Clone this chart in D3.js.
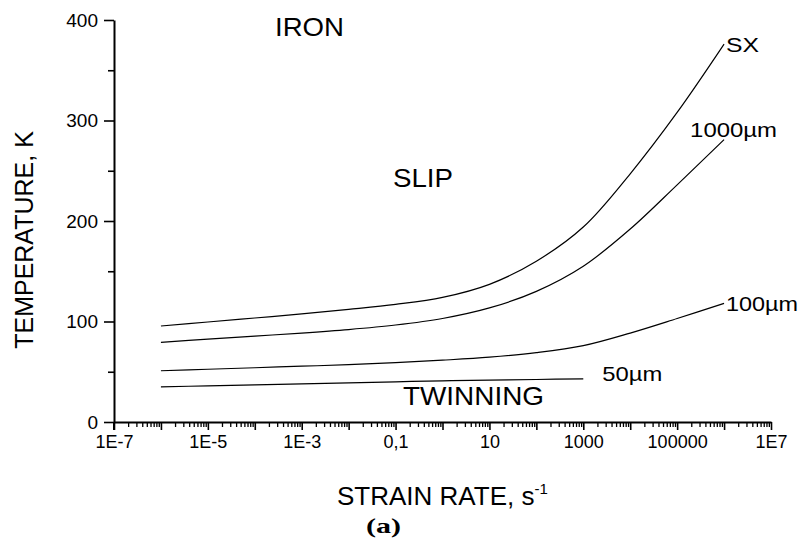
<!DOCTYPE html>
<html><head><meta charset="utf-8">
<script src="https://cdn.jsdelivr.net/npm/d3@7"></script>
<style>
html,body{margin:0;padding:0;background:#fff;}
text{font-family:"Liberation Sans",Arial,sans-serif;fill:#000;}
</style></head>
<body>
<svg id="c" width="801" height="540"></svg>
<script>
// ---- data ----
const rates = [1e-6,1e-5,1e-4,1e-3,1e-2,1e-1,1,1e1,1e2,1e3,1e4,1e5,1e6];
const rates50 = [1e-6,1e-5,1e-4,1e-3,1e-2,1e-1,1,1e1,1e2,1e3];
const tSX    = [95.5,99.5,103.5,107.5,112,117,124,137,160,194,247,308,376];
const t1000  = [79.3,82.5,85.5,88.5,92,96.5,103,113.5,130,155,192,236,281];
const t100   = [51,52.5,54,55.5,57,59,61.5,64.5,69,76,88.5,103,118];
const t50    = [35,36,37,38,39,40,41,41.6,42.3,43];
const seriesNames = ["SX","1000\u00b5m","100\u00b5m","50\u00b5m"];
const xTickValues = [1e-7,1e-6,1e-5,1e-4,1e-3,1e-2,1e-1,1,1e1,1e2,1e3,1e4,1e5,1e6,1e7];
const xTickLabels = {"-7":"1E-7","-5":"1E-5","-3":"1E-3","-1":"0,1","1":"10","3":"1000","5":"100000","7":"1E7"};
const yTickValues = [0,100,200,300,400];
const yMinorValues = [50,150,250,350];

// ---- layout ----
const svg = d3.select("#c");
const x = d3.scaleLog().domain([1e-7,1e7]).range([114,771]);
const y = d3.scaleLinear().domain([0,400]).range([422,20]);

// minor x ticks
const xMinor = [];
for(let e=-7;e<7;e++){for(let m=2;m<=9;m++){xMinor.push(m*Math.pow(10,e));}}

const gx = svg.append("g").attr("transform","translate(0,422)");
gx.call(d3.axisBottom(x).tickValues(xMinor).tickSize(5).tickSizeOuter(0).tickFormat(""))
  .call(g=>g.select(".domain").remove());
gx.selectAll("line").attr("stroke","#000").attr("stroke-width",1.3);
const gxM = svg.append("g").attr("transform","translate(0,422)");
gxM.call(d3.axisBottom(x).tickValues(xTickValues).tickSize(8).tickSizeOuter(0)
  .tickFormat(d=>{const k=String(Math.round(Math.log10(d)));return xTickLabels[k]||"";}));
gxM.select(".domain").attr("stroke","#000").attr("stroke-width",2);
gxM.selectAll("line").attr("stroke","#000").attr("stroke-width",1.6);
gxM.selectAll("text").attr("font-size",18).attr("y",13).attr("dy","0.71em")
  .style("font-family","'Liberation Sans',Arial,sans-serif");

const gy = svg.append("g").attr("transform","translate(114,0)");
gy.call(d3.axisLeft(y).tickValues(yMinorValues).tickSize(6).tickSizeOuter(0).tickFormat(""))
  .call(g=>g.select(".domain").remove());
gy.selectAll("line").attr("stroke","#000").attr("stroke-width",1.6);
const gyM = svg.append("g").attr("transform","translate(114,0)");
gyM.call(d3.axisLeft(y).tickValues(yTickValues).tickSize(10).tickSizeOuter(0).tickFormat(d3.format("d")));
gyM.select(".domain").attr("stroke","#000").attr("stroke-width",2);
gyM.selectAll("line").attr("stroke","#000").attr("stroke-width",1.6);
gyM.selectAll("text").attr("font-size",19).attr("x",-16)
  .style("font-family","'Liberation Sans',Arial,sans-serif");
svg.append("line").attr("x1",114).attr("x2",114).attr("y1",422).attr("y2",430).attr("stroke","#000").attr("stroke-width",2);

// ---- curves ----
const line = d3.line().x(d=>x(d[0])).y(d=>y(d[1])).curve(d3.curveCatmullRom.alpha(0.5));
const allSeries = [
  {name:seriesNames[0], pts:d3.zip(rates,tSX)},
  {name:seriesNames[1], pts:d3.zip(rates,t1000)},
  {name:seriesNames[2], pts:d3.zip(rates,t100)},
  {name:seriesNames[3], pts:d3.zip(rates50,t50)}
];
svg.selectAll("path.curve").data(allSeries).enter().append("path")
  .attr("class","curve").attr("d",d=>line(d.pts))
  .attr("fill","none").attr("stroke","#000").attr("stroke-width",1.2);

// curve labels at curve ends
const labOff = [{dx:2,dy:8,len:33},{dx:-34,dy:-3,len:87},{dx:2,dy:8,len:72},{dx:19,dy:2,len:60}];
allSeries.forEach((s,i)=>{
  const last = s.pts[s.pts.length-1];
  svg.append("text").attr("x",x(last[0])+labOff[i].dx).attr("y",y(last[1])+labOff[i].dy)
    .attr("font-size",21).attr("textLength",labOff[i].len).attr("lengthAdjust","spacingAndGlyphs")
    .text(s.name);
});

// region labels
const regions = [
  {t:"IRON", x:275, y:36, len:69},
  {t:"SLIP", x:393, y:187, len:60},
  {t:"TWINNING", x:403, y:405, len:141}
];
regions.forEach(r=>{
  svg.append("text").attr("x",r.x).attr("y",r.y).attr("font-size",26)
    .attr("textLength",r.len).attr("lengthAdjust","spacingAndGlyphs").text(r.t);
});

// axis titles
const xt = svg.append("text").attr("x",337).attr("y",505).attr("font-size",26);
xt.append("tspan").text("STRAIN RATE, s");
xt.append("tspan").attr("font-size",15).attr("dy",-11).text("-1");
svg.append("text").attr("transform","translate(33,240) rotate(-90)")
  .attr("text-anchor","middle").attr("font-size",25).text("TEMPERATURE, K");
svg.append("text").attr("x",366).attr("y",533)
  .attr("font-size",22).attr("font-weight","bold")
  .attr("textLength",35).attr("lengthAdjust","spacingAndGlyphs")
  .style("font-family","'Liberation Serif','Times New Roman',serif").text("(a)");
</script>
</body></html>
